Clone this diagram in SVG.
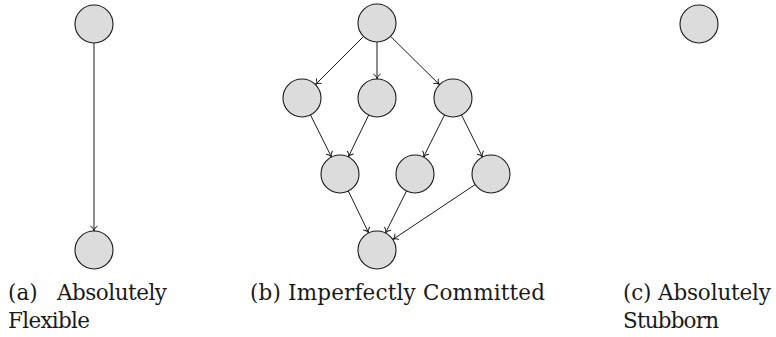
<svg xmlns="http://www.w3.org/2000/svg" width="776" height="337" viewBox="0 0 776 337">
  <style>
    .node { fill: #dcdcdc; stroke: #1a1a1a; stroke-width: 1.1; }
    .edge { fill: none; stroke: #1a1a1a; stroke-width: 1; marker-end: url(#to); }
    .cap { font-family: "DejaVu Serif", "Liberation Serif", serif; font-size: 21.5px; fill: #1a1a1a; }
  </style>
  <defs>
    <marker id="to" markerUnits="userSpaceOnUse" markerWidth="12" markerHeight="12" refX="0" refY="0" viewBox="-6 -6 12 12" orient="auto" overflow="visible">
      <path d="M-5,-3.6 C-4,-1.5 -1.5,-0.3 0,0 C-1.5,0.3 -4,1.5 -5,3.6" fill="none" stroke="#1a1a1a" stroke-width="1"/>
    </marker>
  </defs>

  <!-- (a) two nodes joined by one edge -->
  <g id="connectors-a">
    <line class="edge" x1="94" y1="43" x2="94" y2="231"/>
  </g>
  <g id="a-top"><circle class="node" cx="94" cy="24" r="19"/></g>
  <g id="a-bottom"><circle class="node" cx="94" cy="250" r="19"/></g>

  <!-- (b) layered DAG -->
  <g id="connectors-b">
    <line class="edge" x1="363.57" y1="36.43" x2="315.43" y2="84.57"/>
    <line class="edge" x1="377" y1="42" x2="377" y2="79"/>
    <line class="edge" x1="390.52" y1="36.35" x2="439.48" y2="84.65"/>
    <line class="edge" x1="310.5" y1="114.99" x2="331.5" y2="157.01"/>
    <line class="edge" x1="368.68" y1="115.08" x2="348.32" y2="156.92"/>
    <line class="edge" x1="444.5" y1="114.99" x2="423.5" y2="157.01"/>
    <line class="edge" x1="461.5" y1="114.99" x2="482.5" y2="157.01"/>
    <line class="edge" x1="348.32" y1="191.08" x2="368.68" y2="232.92"/>
    <line class="edge" x1="406.5" y1="190.99" x2="385.5" y2="233.01"/>
    <line class="edge" x1="475.19" y1="184.54" x2="392.81" y2="239.46"/>
  </g>
  <g id="b-root"><circle class="node" cx="377" cy="23" r="19"/></g>
  <g id="b-l1-left"><circle class="node" cx="302" cy="98" r="19"/></g>
  <g id="b-l1-mid"><circle class="node" cx="377" cy="98" r="19"/></g>
  <g id="b-l1-right"><circle class="node" cx="453" cy="98" r="19"/></g>
  <g id="b-l2-left"><circle class="node" cx="340" cy="174" r="19"/></g>
  <g id="b-l2-mid"><circle class="node" cx="415" cy="174" r="19"/></g>
  <g id="b-l2-right"><circle class="node" cx="491" cy="174" r="19"/></g>
  <g id="b-sink"><circle class="node" cx="377" cy="250" r="19"/></g>

  <!-- (c) a single node -->
  <g id="c-node"><circle class="node" cx="699" cy="24" r="19"/></g>

  <!-- captions -->
  <g id="captions">
    <text class="cap" x="8" y="300">(a)</text>
    <text class="cap" x="57" y="300" textLength="110">Absolutely</text>
    <text class="cap" x="8" y="328" textLength="82">Flexible</text>
    <text class="cap" x="250" y="300" textLength="295">(b) Imperfectly Committed</text>
    <text class="cap" x="623" y="300" textLength="148">(c) Absolutely</text>
    <text class="cap" x="623" y="328" textLength="96">Stubborn</text>
  </g>
</svg>
